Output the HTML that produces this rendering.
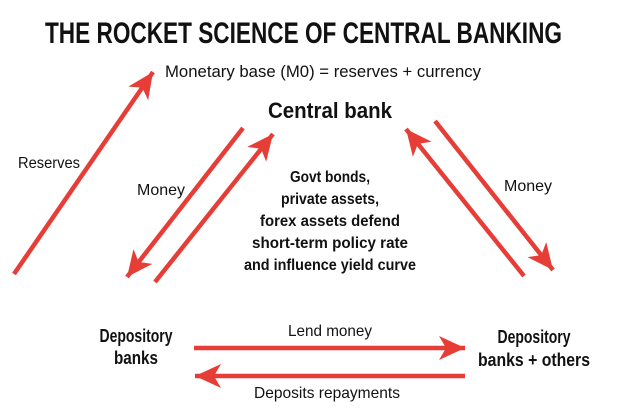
<!DOCTYPE html>
<html><head><style>
html,body{margin:0;padding:0;background:#fff;}
svg{display:block;}
text{font-family:"Liberation Sans",sans-serif;fill:#111;}
</style></head><body>
<svg width="621" height="414" viewBox="0 0 621 414" xmlns="http://www.w3.org/2000/svg">
<defs>
<marker id="a" markerUnits="userSpaceOnUse" markerWidth="30" markerHeight="30" refX="26" refY="12" orient="auto" viewBox="0 0 30 30">
<path d="M26,12 L0,0 L7,12 L0,24 Z" fill="#e63e37"/>
</marker>
</defs>
<text x="45" y="43" font-size="30" font-weight="bold" textLength="517" lengthAdjust="spacingAndGlyphs">THE ROCKET SCIENCE OF CENTRAL BANKING</text>
<text x="165" y="77" font-size="17" textLength="316" lengthAdjust="spacingAndGlyphs">Monetary base (M0) = reserves + currency</text>
<text x="268" y="118" font-size="22" font-weight="bold" textLength="124" lengthAdjust="spacingAndGlyphs">Central bank</text>
<text x="18" y="168" font-size="16" textLength="62" lengthAdjust="spacingAndGlyphs">Reserves</text>
<text x="137" y="195" font-size="16" textLength="48" lengthAdjust="spacingAndGlyphs">Money</text>
<text x="504" y="191" font-size="16" textLength="48" lengthAdjust="spacingAndGlyphs">Money</text>
<g font-size="16" font-weight="bold" text-anchor="middle" lengthAdjust="spacingAndGlyphs">
<text x="330" y="182" textLength="80" lengthAdjust="spacingAndGlyphs">Govt bonds,</text>
<text x="330" y="204" textLength="98" lengthAdjust="spacingAndGlyphs">private assets,</text>
<text x="330" y="226" textLength="140" lengthAdjust="spacingAndGlyphs">forex assets defend</text>
<text x="330" y="248" textLength="156" lengthAdjust="spacingAndGlyphs">short-term policy rate</text>
<text x="330" y="270" textLength="172" lengthAdjust="spacingAndGlyphs">and influence yield curve</text>
</g>
<g font-size="18" font-weight="bold" text-anchor="middle">
<text x="136" y="342" textLength="73" lengthAdjust="spacingAndGlyphs">Depository</text>
<text x="136" y="364" textLength="44" lengthAdjust="spacingAndGlyphs">banks</text>
<text x="534" y="343" textLength="73" lengthAdjust="spacingAndGlyphs">Depository</text>
<text x="534" y="366" textLength="112" lengthAdjust="spacingAndGlyphs">banks + others</text>
</g>
<text x="330" y="336" font-size="16" text-anchor="middle" textLength="84" lengthAdjust="spacingAndGlyphs">Lend money</text>
<text x="327" y="398" font-size="16" text-anchor="middle" textLength="146" lengthAdjust="spacingAndGlyphs">Deposits repayments</text>
<g stroke="#e63e37" stroke-width="4.5" fill="none" marker-end="url(#a)">
<line x1="14" y1="274" x2="153" y2="72"/>
<line x1="243" y1="128" x2="127" y2="277"/>
<line x1="155" y1="282" x2="273" y2="134"/>
<line x1="524" y1="276" x2="406" y2="129"/>
<line x1="435" y1="121" x2="553" y2="270"/>
<line x1="194" y1="348" x2="465" y2="348"/>
<line x1="465" y1="376" x2="195" y2="376"/>
</g>
</svg>
</body></html>
